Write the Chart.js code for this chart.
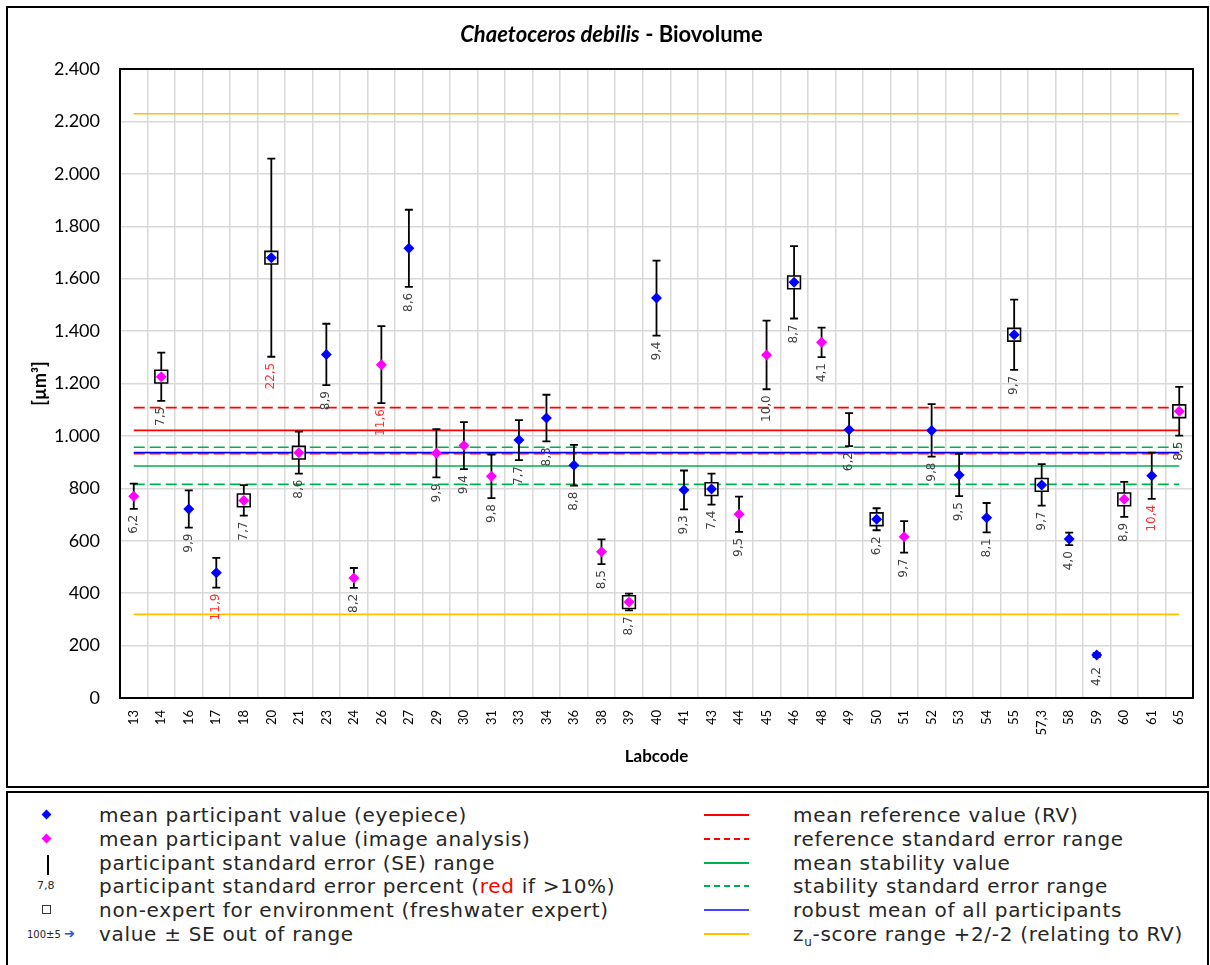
<!DOCTYPE html>
<html>
<head>
<meta charset="utf-8">
<script src="https://cdn.jsdelivr.net/npm/chart.js@4.4.1/dist/chart.umd.min.js"></script>
<style>
	body { margin: 0; background: #fff; }
	#frame { position: absolute; left: 6px; top: 6px; width: 1199px; height: 778px; border: 2px solid #000; }
	#chartTitle { position: absolute; left: 4px; width: 1199px; top: 12px; line-height: 26px; text-align: center; font: bold 22px Lato, sans-serif; color: #000; }
	#legend { position: absolute; left: 6px; top: 791px; width: 1199px; height: 190px; border: 2px solid #000; font-family: "DejaVu Sans", sans-serif; color: #262626; }
	.row { position: absolute; height: 24px; line-height: 24px; white-space: nowrap; font-size: 20px; letter-spacing: 0.7px; }
	.sym { position: absolute; }
	.diamond { width: 7px; height: 7px; transform: rotate(45deg); }
	.sample { position: absolute; left: 696px; width: 45px; height: 2px; }
</style>
</head>
<body>
<div id="frame">
	<canvas id="chart" width="1199" height="778"></canvas>
	<div id="chartTitle"><i>Chaetoceros debilis</i> - Biovolume</div>
</div>
<div id="legend">
	<!-- left column -->
	<div class="sym diamond" style="left:35px; top:18px; background:#0000ff;"></div>
	<div class="row" style="left:91px; top:10px;">mean participant value (eyepiece)</div>
	<div class="sym diamond" style="left:35px; top:42px; background:#ff00ff;"></div>
	<div class="row" style="left:91px; top:34px;">mean participant value (image analysis)</div>
	<div class="sym" style="left:39px; top:62px; width:2px; height:20px; background:#000;"></div>
	<div class="row" style="left:91px; top:58px;">participant standard error (SE) range</div>
	<div class="sym" style="left:29px; top:86px; font-size:11px; line-height:14px;">7,8</div>
	<div class="row" style="left:91px; top:81px;">participant standard error percent (<span style="color:#ff0000">red</span> if &gt;10%)</div>
	<div class="sym" style="left:34px; top:112px; width:7px; height:7px; border:1px solid #333;"></div>
	<div class="row" style="left:91px; top:105px;">non-expert for environment (freshwater expert)</div>
	<div class="sym" style="left:19px; top:134px; font-size:10px; line-height:14px; white-space:nowrap;">100±5 <span style="color:#1f4fd8; font-size:13px;">➔</span></div>
	<div class="row" style="left:91px; top:129px;">value ± SE out of range</div>
	<!-- right column -->
	<div class="sample" style="top:21px; background:#ff0000;"></div>
	<div class="row" style="left:785px; top:10px;">mean reference value (RV)</div>
	<div class="sample" style="top:45px; background:repeating-linear-gradient(90deg,#ff0000 0 6px,transparent 6px 10px);"></div>
	<div class="row" style="left:785px; top:34px;">reference standard error range</div>
	<div class="sample" style="top:69px; background:#00b050;"></div>
	<div class="row" style="left:785px; top:58px;">mean stability value</div>
	<div class="sample" style="top:92px; background:repeating-linear-gradient(90deg,#00b050 0 6px,transparent 6px 10px);"></div>
	<div class="row" style="left:785px; top:81px;">stability standard error range</div>
	<div class="sample" style="top:116px; background:#4444ff;"></div>
	<div class="row" style="left:785px; top:105px;">robust mean of all participants</div>
	<div class="sample" style="top:140px; background:#ffc000;"></div>
	<div class="row" style="left:785px; top:129px;">z<sub style="font-size:12px;">u</sub>-score range +2/-2 (relating to RV)</div>
</div>
<script>
	const labcodes = ["13", "14", "16", "17", "18", "20", "21", "23", "24", "26", "27", "29", "30", "31", "33", "34", "36", "38", "39", "40", "41", "43", "44", "45", "46", "48", "49", "50", "51", "52", "53", "54", "55", "57,3", "58", "59", "60", "61", "65"];
	const meanValues = [770, 1226, 721, 478, 754, 1680, 936, 1311, 458, 1272, 1716, 934, 963, 846, 984, 1068, 888, 558, 366, 1526, 794, 797, 701, 1309, 1586, 1357, 1024, 682, 615, 1021, 851, 688, 1386, 813, 607, 164, 758, 848, 1094];
	const seValues = [48, 92, 71, 57, 58, 378, 80, 117, 38, 147, 147, 92, 90, 83, 76, 89, 78, 47, 32, 143, 74, 59, 67, 131, 138, 56, 63, 42, 60, 100, 81, 56, 134, 79, 24, 7, 67, 88, 93];
	const sePercent = [6.2, 7.5, 9.9, 11.9, 7.7, 22.5, 8.6, 8.9, 8.2, 11.6, 8.6, 9.9, 9.4, 9.8, 7.7, 8.3, 8.8, 8.5, 8.7, 9.4, 9.3, 7.4, 9.5, 10.0, 8.7, 4.1, 6.2, 6.2, 9.7, 9.8, 9.5, 8.1, 9.7, 9.7, 4.0, 4.2, 8.9, 10.4, 8.5];
	/*E = eyepiece, I = image analysis*/
	const method = ["I", "I", "E", "E", "I", "E", "I", "E", "I", "I", "E", "I", "I", "I", "E", "E", "E", "I", "I", "E", "E", "E", "I", "I", "E", "I", "E", "E", "I", "E", "E", "E", "E", "E", "E", "E", "I", "E", "I"];
	const nonExpert = [0, 1, 0, 0, 1, 1, 1, 0, 0, 0, 0, 0, 0, 0, 0, 0, 0, 0, 1, 0, 0, 1, 0, 0, 1, 0, 0, 1, 0, 0, 0, 0, 1, 1, 0, 0, 1, 0, 1];

	const rvMean = 1021;
	const rvRange = [932, 1108];
	const stabilityMean = 885;
	const stabilityRange = [815, 957];
	const robustMean = 936;
	const zuRange = [319, 2229];

	const first = labcodes[0];
	const last = labcodes[labcodes.length - 1];

	function hline(value, color, width, dash) {
		return {
			label: "line",
			data: [{ x: first, y: value }, { x: last, y: value }],
			borderColor: color,
			borderWidth: width,
			borderDash: dash || [],
			pointRadius: 0,
			fill: false,
			order: 10
		};
	}

	const errorBars = {
		id: "errorBars",
		beforeDatasetDraw(chart, args) {
			if (chart.data.datasets[args.index].label !== "boxes") return;
			const xs = chart.scales.x;
			const ys = chart.scales.y;
			const ctx = chart.ctx;
			ctx.save();
			ctx.strokeStyle = "#000";
			ctx.lineWidth = 1.8;
			meanValues.forEach((v, i) => {
				const px = xs.getPixelForValue(i);
				const top = ys.getPixelForValue(v + seValues[i]);
				const bot = ys.getPixelForValue(v - seValues[i]);
				ctx.beginPath();
				ctx.moveTo(px, top);
				ctx.lineTo(px, bot);
				ctx.moveTo(px - 4, top);
				ctx.lineTo(px + 4, top);
				ctx.moveTo(px - 4, bot);
				ctx.lineTo(px + 4, bot);
				ctx.stroke();
			});
			ctx.restore();
		}
	};

	const percentLabels = {
		id: "percentLabels",
		afterDatasetsDraw(chart) {
			const xs = chart.scales.x;
			const ys = chart.scales.y;
			const ctx = chart.ctx;
			ctx.save();
			ctx.font = '12px "DejaVu Sans"';
			ctx.textAlign = "right";
			ctx.textBaseline = "middle";
			meanValues.forEach((v, i) => {
				const px = xs.getPixelForValue(i);
				const barBottom = ys.getPixelForValue(v - seValues[i]);
				const markBottom = ys.getPixelForValue(v) + (nonExpert[i] ? 8 : 6);
				const py = Math.max(barBottom, markBottom) + 6;
				ctx.save();
				ctx.translate(px, py);
				ctx.rotate(-Math.PI / 2);
				ctx.fillStyle = sePercent[i] > 10 ? "#ff3030" : "#404040";
				ctx.fillText(sePercent[i].toFixed(1).replace(".", ","), 0, 0);
				ctx.restore();
			});
			/*plot area box*/
			const a = chart.chartArea;
			ctx.strokeStyle = "#000";
			ctx.lineWidth = 2;
			ctx.strokeRect(a.left, a.top, a.right - a.left, a.bottom - a.top);
			ctx.restore();
		}
	};

	const ctx = document.getElementById("chart").getContext("2d");
	new Chart(ctx, {
		type: "line",
		data: {
			labels: labcodes,
			datasets: [
				{
					label: "eyepiece",
					data: meanValues.map((v, i) => (method[i] === "E" ? v : null)),
					showLine: false,
					pointStyle: "rectRot",
					pointRadius: 5.5,
					pointBackgroundColor: "#0000ff",
					pointBorderColor: "#0000ff",
					pointBorderWidth: 0,
					order: 0
				},
				{
					label: "image",
					data: meanValues.map((v, i) => (method[i] === "I" ? v : null)),
					showLine: false,
					pointStyle: "rectRot",
					pointRadius: 5.5,
					pointBackgroundColor: "#ff00ff",
					pointBorderColor: "#ff00ff",
					pointBorderWidth: 0,
					order: 1
				},
				{
					label: "boxes",
					data: meanValues.map((v, i) => (nonExpert[i] ? v : null)),
					showLine: false,
					pointStyle: "rect",
					pointRadius: 9,
					pointBackgroundColor: "#fff",
					pointBorderColor: "#000",
					pointBorderWidth: 1.6,
					order: 2
				},
				hline(zuRange[1], "#ffc000", 1.6),
				hline(zuRange[0], "#ffc000", 1.6),
				hline(rvRange[1], "#ff0000", 1.6, [11, 5]),
				hline(rvMean, "#ff0000", 1.6),
				hline(stabilityRange[1], "#00b050", 1.6, [11, 5]),
				hline(rvRange[0], "#ff0000", 1.6, [11, 5]),
				hline(robustMean, "#0000ff", 1.8),
				hline(stabilityMean, "#00b050", 1.6),
				hline(stabilityRange[0], "#00b050", 1.6, [11, 5])
			]
		},
		options: {
			responsive: false,
			animation: false,
			devicePixelRatio: 1,
			layout: { padding: { top: 61, right: 12, left: 0, bottom: 0 } },
			plugins: {
				legend: { display: false },
				tooltip: { enabled: false },
				title: { display: false }
			},
			scales: {
				x: {
					type: "category",
					offset: true,
					grid: { offset: true, color: "#d9d9d9", lineWidth: 1.5, drawTicks: false },
					border: { color: "#000", width: 2 },
					ticks: {
						autoSkip: false,
						minRotation: 90,
						maxRotation: 90,
						padding: 12,
						color: "#000",
						font: { family: "Lato", size: 13 }
					},
					title: {
						display: true,
						text: "Labcode",
						color: "#000",
						font: { family: "Lato", size: 17, weight: "bold" },
						padding: { top: 0, bottom: 19 }
					},
					afterFit(scale) {
						scale.height = 88;
					}
				},
				y: {
					min: 0,
					max: 2400,
					grid: { color: "#d9d9d9", lineWidth: 1.5, drawTicks: false },
					border: { color: "#000", width: 2 },
					ticks: {
						stepSize: 200,
						padding: 20,
						color: "#000",
						font: { family: "Lato", size: 18 },
						callback: v => String(v).replace(/\B(?=(\d{3})+(?!\d))/g, ".")
					},
					title: {
						display: true,
						text: "[µm³]",
						color: "#000",
						font: { family: "Lato", size: 18, weight: "bold" },
						padding: { top: 21, bottom: 0 }
					},
					afterFit(scale) {
						scale.width = 112;
					}
				}
			}
		},
		plugins: [errorBars, percentLabels]
	});
</script>
</body>
</html>
